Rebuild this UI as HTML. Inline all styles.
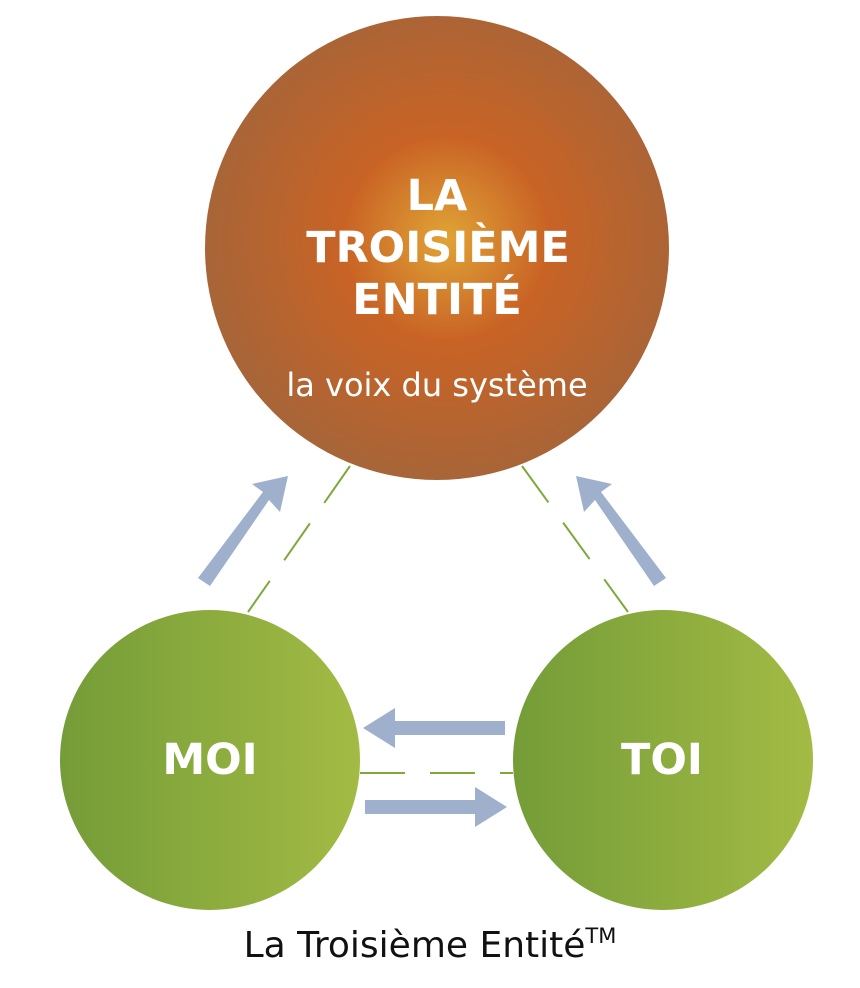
<!DOCTYPE html>
<html><head><meta charset="utf-8"><style>
html,body{margin:0;padding:0;background:#fff;}
svg{display:block;}
</style></head><body>
<svg width="860" height="988" viewBox="0 0 860 988" xmlns="http://www.w3.org/2000/svg">
<defs>
<radialGradient id="rg" cx="0.52" cy="0.48" r="0.55">
<stop offset="0" stop-color="#e0a436"/>
<stop offset="0.4" stop-color="#c96325"/>
<stop offset="1" stop-color="#a4653a"/>
</radialGradient>
<linearGradient id="gg" x1="0" y1="0" x2="1" y2="0">
<stop offset="0" stop-color="#749c38"/>
<stop offset="1" stop-color="#a3bb44"/>
</linearGradient>
</defs>
<circle cx="437" cy="248" r="232" fill="url(#rg)"/>
<circle cx="210" cy="760" r="150" fill="url(#gg)"/>
<circle cx="663" cy="760" r="150" fill="url(#gg)"/>
<g stroke="#7fa83c" stroke-width="2" stroke-dasharray="45,25" fill="none">
<line x1="350" y1="466" x2="248" y2="612"/>
<line x1="522" y1="466" x2="628" y2="612"/>
<line x1="360" y1="773" x2="513" y2="773"/>
</g>
<g fill="#9fb0cc">
<polygon points="198,578 263,492 252,484 288,476 280,512 269,500 210,586"/>
<polygon points="666,578 601,492 612,484 576,476 584,512 595,500 654,586"/>
<polygon points="505,721 395,721 395,708 363,728 395,748 395,735 505,735"/>
<polygon points="365,800 475,800 475,787 507,807 475,827 475,814 365,814"/>
</g>
<g font-family="DejaVu Sans, Liberation Sans, sans-serif" fill="#fff" font-weight="bold" text-anchor="middle" font-size="43">
<text x="437" y="210">LA</text>
<text x="438" y="262">TROISIÈME</text>
<text x="437" y="314">ENTITÉ</text>
<text x="210" y="774">MOI</text>
<text x="662" y="774">TOI</text>
</g>
<text x="437" y="396" font-family="DejaVu Sans, Liberation Sans, sans-serif" fill="#fff" font-size="32" text-anchor="middle">la voix du système</text>
<text x="430" y="957" font-family="DejaVu Sans, Liberation Sans, sans-serif" fill="#111" font-size="36" text-anchor="middle">La Troisième Entité<tspan font-size="21" dy="-14">TM</tspan></text>
</svg>
</body></html>
